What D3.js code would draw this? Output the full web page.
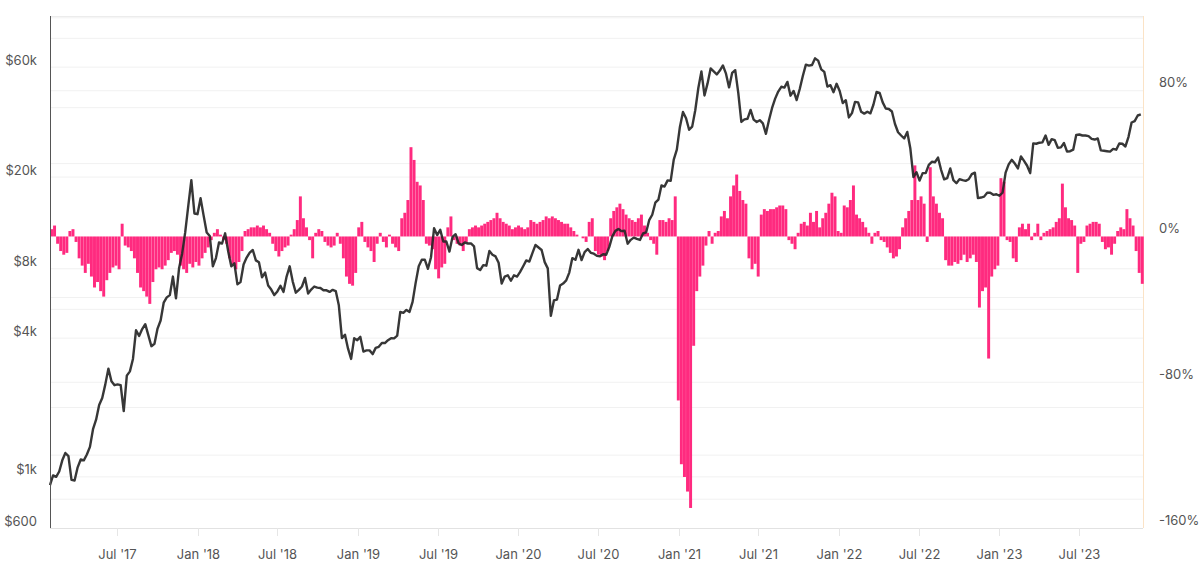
<!DOCTYPE html>
<meta charset="utf-8">

<!-- Load d3.js -->
<script src="https://d3js.org/d3.v7.min.js"></script>

<style>
  body { margin: 0; background: #fff; }
  text { font-family: Inter, "Noto Sans", sans-serif; }
</style>

<!-- Create a div where the graph will take place -->
<div id="my_dataviz"></div>

<script>

// weekly BTC price (USD), one array per year, first week = 29 Jan 2017
var price2017 = [920, 1015, 1000, 1055, 1180, 1270, 1230, 970, 965, 1100,
  1190, 1180, 1250, 1350, 1610, 1770, 2050, 2200, 2520, 2950,
  2600, 2500, 2520, 2500, 1930, 2750, 2870, 3250, 4330, 4090,
  4380, 4600, 4120, 3690, 3780, 4400, 4770, 5700, 6010, 6150,
  7400, 5950, 8040, 9300, 11500, 15000, 19400, 13900, 13800];
var price2018 = [16200, 13600, 11500, 11100, 8200, 8900, 10400, 10300, 11400, 9500,
  8200, 8450, 6850, 7000, 8350, 8950, 9400, 9650, 8700, 8530,
  7350, 7700, 6770, 6500, 6150, 6380, 6750, 6350, 7400, 8200,
  7040, 6300, 6480, 6700, 7300, 6250, 6500, 6700, 6630, 6600,
  6450, 6450, 6350, 6480, 6400, 5550, 4000, 4140, 3600, 3250,
  4000, 3920];
var price2019 = [4050, 3500, 3540, 3540, 3410, 3630, 3670, 3810, 3810, 3920,
  4000, 3990, 4100, 5200, 5150, 5300, 5200, 5750, 6950, 8200,
  8750, 8750, 8000, 8980, 12000, 11200, 11800, 10500, 10500, 9500,
  11000, 11300, 10300, 10150, 10400, 10300, 10300, 10000, 8050, 7900,
  8300, 8250, 9550, 9200, 9050, 8500, 6900, 7400, 7500, 7100,
  7500, 7400];
var price2020 = [7750, 8200, 8700, 8600, 9350, 10150, 9900, 9650, 8550, 8030,
  5000, 5830, 5880, 6770, 6900, 7120, 7700, 8900, 8750, 9670,
  8720, 9450, 9750, 9380, 9300, 9100, 9070, 9250, 9200, 9930,
  11050, 11680, 11900, 11650, 11700, 10280, 10680, 10920, 10780, 10670,
  11380, 11500, 13000, 13730, 15480, 15960, 18400, 18200, 19350, 19250,
  23800, 26300];
var price2021 = [33000, 38300, 36000, 32100, 33100, 39000, 48700, 57500, 45200, 51000,
  59200, 57500, 55800, 58000, 61000, 56200, 49000, 56600, 58200, 46400,
  34700, 35600, 35800, 39100, 35500, 34700, 35300, 34200, 30800, 35400,
  39900, 43800, 47000, 49300, 48900, 51750, 45100, 47300, 43200, 48200,
  54900, 61500, 60900, 61300, 65500, 64000, 58700, 57200, 49400, 50100,
  46700, 50800];
var price2022 = [47300, 41900, 43100, 36300, 37900, 42400, 42200, 38400, 37700, 38400,
  37800, 41300, 46800, 46400, 42200, 39700, 39500, 38500, 34000, 31300,
  30300, 29400, 31400, 26600, 20000, 21000, 19300, 20800, 20800, 22600,
  23300, 23200, 24300, 21500, 19550, 19800, 21800, 19400, 18800, 19600,
  19400, 19250, 19570, 20600, 20900, 16200, 16300, 16450, 17100, 17100,
  16750, 16840];
var price2023 = [16600, 17100, 20900, 22700, 23750, 22900, 21800, 24600, 23500, 22400,
  20800, 28000, 27900, 28200, 28300, 30300, 27600, 29200, 28900, 26800,
  26900, 28100, 25800, 25900, 26300, 30500, 30600, 30300, 30300, 30100,
  29300, 29100, 29400, 26100, 26000, 25900, 25800, 26500, 26300, 27970,
  27900, 27150, 29900, 34500, 35000, 37000, 37400];

// weekly bar values (%), same weeks as the price arrays
var bars2017 = [4, 6, -4, -8, -10, -9, 3, 4, -3, -12,
  -16, -20, -15, -22, -28, -25, -30, -33, -24, -20,
  -17, -16, -18, 7, -5, -6, -8, -12, -20, -28,
  -30, -33, -37, -25, -18, -17, -18, -16, -13, -9,
  -8, -10, -16, -18, -20, -15, -17, -14, -16];
var bars2018 = [-12, -9, -6, -2, 2, 4, 1, -2, -4, -12,
  -15, -18, -14, -8, 3, 4, 5, 5, 6, 5,
  6, 4, 2, -4, -8, -11, -8, -6, -5, 1,
  4, 9, 22, 10, 5, -2, -12, 2, 4, 3,
  -3, -5, -6, -5, 2, -4, -12, -22, -26, -27,
  -20, 5];
var bars2019 = [8, -3, -6, -8, -14, -4, 2, -3, -6, 1,
  -4, -6, -8, 10, 13, 20, 49, 42, 30, 28,
  20, -4, -5, -7, -18, -23, -17, -15, 5, 11,
  -2, -4, -5, -8, -3, 4, 5, 6, 5, 6,
  7, 8, 9, 10, 13, 10, 8, 7, 6, 4,
  5, 6];
var bars2020 = [5, 4, 5, 9, 8, 7, 8, 9, 11, 10,
  11, 10, 9, 8, 7, 7, 5, 3, 1, 0,
  -1, -3, 8, 10, -8, -10, -11, -13, -8, 10,
  14, 16, 18, 15, 12, 10, 9, 8, 10, 12,
  6, 2, -2, -4, -10, 9, 9, 8, 10, 9,
  22, -90];
var bars2021 = [-125, -132, -140, -149, -60, -30, -22, -16, -5, 3,
  -4, 2, 3, 11, 14, 10, 22, 28, 34, 25,
  20, 18, -12, -18, -15, -22, 12, 15, 14, 15,
  15, 16, 17, 17, 15, -2, -4, -7, 2, 7,
  8, 6, 13, 8, 14, 5, 10, 13, 18, 24,
  22, 3];
var bars2022 = [2, 17, 16, 20, 28, 12, 10, 8, 5, 2,
  -4, 2, 3, -2, -3, -6, -9, -12, -11, -7,
  5, 10, 14, 20, 39, 20, 22, 18, -3, 38,
  22, 18, 13, 10, -13, -16, -16, -14, -15, -13,
  -10, -14, -12, -10, -14, -39, -30, -28, -67, -22,
  -18, -16];
var bars2023 = [32, 30, -2, -3, -12, -14, 5, 7, 4, 7,
  -2, 2, 7, -2, 2, 3, 4, 5, 8, 10,
  29, 16, 10, 9, 6, -20, -4, -3, 6, 7,
  8, 8, 7, -3, -7, -6, -10, -4, 3, 5,
  4, 15, 10, 6, -8, -20, -26];

// axis ticks
var leftLabels = [600, 1000, 4000, 8000, 20000, 60000];
var leftGrid = [800, 1000, 2000, 4000, 6000, 8000, 20000, 40000, 60000, 80000];
var rightLabels = [-160, -80, 0, 80];
var rightGrid = [-120, -80, -40, 40, 80, 120];

var prices = [].concat(price2017, price2018, price2019, price2020, price2021, price2022, price2023);
var bars = [].concat(bars2017, bars2018, bars2019, bars2020, bars2021, bars2022, bars2023);
var firstWeek = new Date(Date.UTC(2017, 0, 29));
var lastDay = new Date(Date.UTC(2023, 10, 24));

var data = prices.map(function(p, i) {
  return {date: d3.utcDay.offset(firstWeek, 7 * i), price: p, value: bars[i]};
});

// set the dimensions and margins of the graph
var margin = {top: 16, right: 57, bottom: 44, left: 50},
    width = 1200 - margin.left - margin.right,
    height = 572 - margin.top - margin.bottom;

var svg = d3.select("#my_dataviz")
  .append("svg")
    .attr("width", width + margin.left + margin.right)
    .attr("height", height + margin.top + margin.bottom)
  .append("g")
    .attr("transform", "translate(" + margin.left + "," + margin.top + ")");

var x = d3.scaleUtc()
  .domain([firstWeek, lastDay])
  .range([0, width]);

var yL = d3.scaleLog()
  .domain([600, 100000])
  .range([height, 0]);

var yR = d3.scaleLinear()
  .domain([-160, 121])
  .range([height, 0]);

// grid lines
svg.append("g").selectAll("line")
  .data(leftGrid)
  .enter().append("line")
    .attr("x1", 0).attr("x2", width)
    .attr("y1", function(d) { return yL(d); })
    .attr("y2", function(d) { return yL(d); })
    .attr("stroke", "#f1f1f1");

svg.append("g").selectAll("line")
  .data(rightGrid)
  .enter().append("line")
    .attr("x1", 0).attr("x2", width)
    .attr("y1", function(d) { return yR(d); })
    .attr("y2", function(d) { return yR(d); })
    .attr("stroke", "#f1f1f1");

// frame
svg.append("line").attr("x1", 0).attr("x2", width).attr("y1", 0.5).attr("y2", 0.5)
  .attr("stroke", "#ececec");
svg.append("line").attr("x1", 0).attr("x2", width).attr("y1", height + 0.5).attr("y2", height + 0.5)
  .attr("stroke", "#e2e2e2");
svg.append("line").attr("x1", width + 0.5).attr("x2", width + 0.5).attr("y1", 0).attr("y2", height)
  .attr("stroke", "#fbe3c6");

// x axis ticks and labels
var xTicks = x.ticks(d3.utcMonth.every(6)).filter(function(d) { return d > firstWeek; });
var fmt = d3.utcFormat("%b '%y");
var xg = svg.append("g").selectAll("g")
  .data(xTicks)
  .enter().append("g")
    .attr("transform", function(d) { return "translate(" + (Math.round(x(d)) + 0.5) + ",0)"; });
xg.append("line")
  .attr("y1", height).attr("y2", height + 8)
  .attr("stroke", "#e6e6e6");
xg.append("text")
  .attr("y", height + 27)
  .attr("text-anchor", "middle")
  .attr("dominant-baseline", "middle")
  .attr("font-size", 13)
  .attr("fill", "#555")
  .text(fmt);

// bars
var step = x(d3.utcDay.offset(firstWeek, 7)) - x(firstWeek);
svg.append("g").selectAll("rect")
  .data(data)
  .enter().append("rect")
    .attr("x", function(d) { return x(d.date); })
    .attr("y", function(d) { return yR(Math.max(0, d.value)); })
    .attr("width", step * 0.96)
    .attr("height", function(d) { return Math.abs(yR(d.value) - yR(0)); })
    .attr("fill", "#ff2a7f");

// price line
svg.append("path")
  .datum(data)
  .attr("fill", "none")
  .attr("stroke", "#262626")
  .attr("stroke-opacity", 0.92)
  .attr("stroke-width", 2.4)
  .attr("stroke-linejoin", "round")
  .attr("d", d3.line()
    .x(function(d) { return x(d.date); })
    .y(function(d) { return yL(d.price); }));

// left axis line
svg.append("line").attr("x1", 0.5).attr("x2", 0.5).attr("y1", 0).attr("y2", height)
  .attr("stroke", "#555");

// left labels
var money = function(d) { return d >= 1000 ? "$" + (d / 1000) + "k" : "$" + d; };
svg.append("g").selectAll("text")
  .data(leftLabels)
  .enter().append("text")
    .attr("x", -13)
    .attr("y", function(d) { return yL(d) - 6; })
    .attr("text-anchor", "end")
    .attr("dominant-baseline", "middle")
    .attr("font-size", 13)
    .attr("fill", "#555")
    .text(money);

// right labels
svg.append("g").selectAll("text")
  .data(rightLabels)
  .enter().append("text")
    .attr("x", width + 16)
    .attr("y", function(d) { return yR(d) - 7; })
    .attr("dominant-baseline", "middle")
    .attr("font-size", 13)
    .attr("fill", "#555")
    .text(function(d) { return d + "%"; });

</script>
